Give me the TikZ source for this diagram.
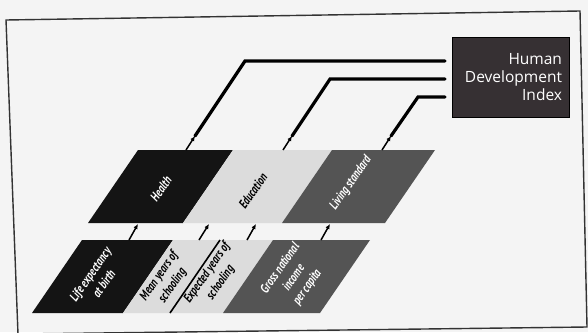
\documentclass[tikz,border=0pt]{standalone}
\usepackage{fontspec}
\setmainfont{Open Sans}
\newfontfamily\labelfont[FakeStretch=0.76]{PT Sans}
\usetikzlibrary{arrows.meta}

\definecolor{boxblack}{HTML}{141414}
\definecolor{boxlight}{HTML}{DCDCDC}
\definecolor{boxdark}{HTML}{545454}
\definecolor{hdifill}{HTML}{363033}
\definecolor{paper}{HTML}{F4F4F4}

\tikzset{
  inbox/.style={font=\labelfont\bfseries\itshape\fontsize{13}{16.5}\selectfont, rotate=55, align=center, inner sep=0pt},
  feed/.style={line width=1.5pt, -{Latex[length=5pt,width=4.5pt]}},
  trunk/.style={line width=3.2pt, line cap=round},
}

\begin{document}
\begin{tikzpicture}[x=1pt,y=-1pt]
                \useasboundingbox (0,0) rectangle (588,332);
                \fill [paper] (0,0) rectangle (588,332);%

                % Drawing frame of the page
                \draw [line width=1.4pt, black!80] (6,20) -- (580,11) -- (587,327) -- (18,334) -- cycle;%

                % Drawing box Health
                \fill [boxblack] (88,223) -- (183,223) -- (233,150) -- (138,150) -- cycle;%
                \node [inbox, text=white] (health) at (161,189) {Health};%

                % Drawing box Education
                \fill [boxlight] (183,223) -- (282,223) -- (332,150) -- (233,150) -- cycle;%
                \node [inbox] (educ) at (253,191) {Education};%

                % Drawing box Living standard
                \fill [boxdark] (282,223) -- (385,223) -- (435,150) -- (332,150) -- cycle;%
                \node [inbox, text=white] (living) at (351,183) {Living standard};%

                % Drawing box Life expectancy
                \fill [boxblack] (32,313) -- (123,313) -- (173,240) -- (82,240) -- cycle;%
                \node [inbox, text=white] (life) at (97,279) {Life expectancy\\at birth};%

                % Drawing box Mean years
                \fill [boxlight] (123,313) -- (170,313) -- (220,240) -- (173,240) -- cycle;%
                \node [inbox] (meanyrs) at (166,281) {Mean years of\\schooling};%

                % Drawing box Expected years
                \fill [boxlight] (170,313) -- (223,313) -- (273,240) -- (220,240) -- cycle;%
                \node [inbox] (expyrs) at (214,278) {Expected years of\\schooling};%
                \draw [line width=1.6pt] (170,313) -- (220,240);%

                % Drawing box Gross national income
                \fill [boxdark] (223,313) -- (320,313) -- (370,240) -- (273,240) -- cycle;%
                \node [inbox, text=white] (gni) at (294,278) {Gross national\\income\\per capita};%

                % Drawing box Human Development Index
                \node [draw=black, line width=0.8pt, fill=hdifill, text=white,
                       minimum width=117pt, minimum height=80pt, text width=103pt,
                       inner sep=7pt, align=right, font=\fontsize{15.5}{18}\selectfont]
                      (hdi) at (510.5,77) {Human\\Development\\Index};%

                % Marking ends of the short arrows
                \coordinate (lifeout) at (129,240);%
                \coordinate (healthin) at (138,224);%
                \coordinate (meanout) at (199,240);%
                \coordinate (educin) at (209,224);%
                \coordinate (expout) at (247,240);%
                \coordinate (educin2) at (256,224);%
                \coordinate (gniout) at (321,240);%
                \coordinate (livingin) at (330,224);%

                % Drawing short arrows
                \draw [feed] (lifeout) -- (healthin);%
                \draw [feed] (meanout) -- (educin);%
                \draw [feed] (expout) -- (educin2);%
                \draw [feed] (gniout) -- (livingin);%

                % Marking ends of the long lines
                \coordinate (healthout) at (186,150);%
                \coordinate (healthtip) at (195,136);%
                \coordinate (healthbend) at (245,61);%
                \coordinate (healthend) at (445,61);%
                \coordinate (educout) at (283,150);%
                \coordinate (eductip) at (292,136);%
                \coordinate (educbend) at (330,79);%
                \coordinate (educend) at (445,79);%
                \coordinate (livingout) at (382,150);%
                \coordinate (livingtip) at (391,136);%
                \coordinate (livingbend) at (418,97);%
                \coordinate (livingend) at (445,97);%

                % Drawing line Health to Index
                \draw [feed] (healthout) -- (healthtip);%
                \draw [trunk] (healthtip) -- (healthbend) -- (healthend);%

                % Drawing line Education to Index
                \draw [feed] (educout) -- (eductip);%
                \draw [trunk] (eductip) -- (educbend) -- (educend);%

                % Drawing line Living standard to Index
                \draw [feed] (livingout) -- (livingtip);%
                \draw [trunk] (livingtip) -- (livingbend) -- (livingend);%
\end{tikzpicture}
\end{document}
